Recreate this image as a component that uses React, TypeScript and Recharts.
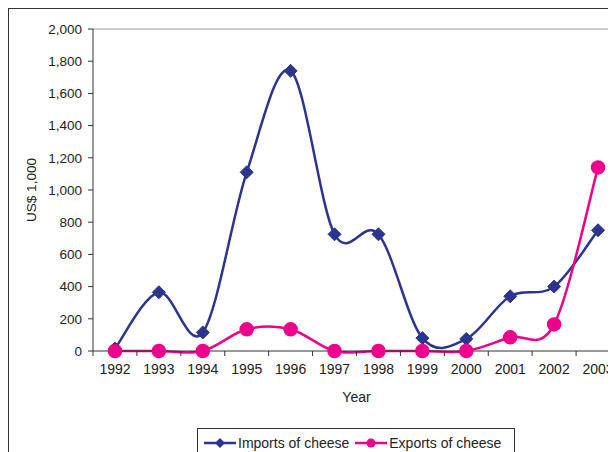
import { LineChart, Line, XAxis, YAxis, ReferenceLine } from "recharts";

const years = [1992, 1993, 1994, 1995, 1996, 1997, 1998, 1999, 2000, 2001, 2002, 2003];
const imports = [15, 365, 115, 1110, 1740, 725, 725, 80, 75, 340, 400, 750];
const exports = [0, 0, 0, 135, 135, 0, 0, 0, 0, 85, 165, 1140];
const yTicks = [0, 200, 400, 600, 800, 1000, 1200, 1400, 1600, 1800, 2000];
// category band edges (where Excel puts its tick marks)
const bandEdges = [1991.5, 1992.5, 1993.5, 1994.5, 1995.5, 1996.5, 1997.5, 1998.5, 1999.5, 2000.5, 2001.5, 2002.5, 2003.5];

const data = years.map((year, i) => ({ year, imports: imports[i], exports: exports[i] }));
const xTicks = [...bandEdges, ...years].sort((a, b) => a - b);

const NAVY = "#2b3590";
const PINK = "#ec008c";
const FONT = "'Liberation Sans', Arial, sans-serif";
const TICK_SIZE = 5;
const TICK_MARGIN = 8;

// Excel-like smoothed line (Catmull-Rom)
function smooth(context: any) {
  let pts: number[][] = [];
  return {
    areaStart() {},
    areaEnd() {},
    lineStart() {
      pts = [];
    },
    point(x: number, y: number) {
      pts.push([+x, +y]);
    },
    lineEnd() {
      if (!pts.length) return;
      context.moveTo(pts[0][0], pts[0][1]);
      for (let i = 0; i < pts.length - 1; i++) {
        const p0 = pts[Math.max(i - 1, 0)];
        const p1 = pts[i];
        const p2 = pts[i + 1];
        const p3 = pts[Math.min(i + 2, pts.length - 1)];
        context.bezierCurveTo(
          p1[0] + (p2[0] - p0[0]) / 6,
          p1[1] + (p2[1] - p0[1]) / 6,
          p2[0] - (p3[0] - p1[0]) / 6,
          p2[1] - (p3[1] - p1[1]) / 6,
          p2[0],
          p2[1]
        );
      }
    },
  };
}

const YearTick = (props: any) => {
  const { x, y, payload } = props;
  const v = payload.value;
  if (!Number.isInteger(v)) {
    const top = y - TICK_SIZE - TICK_MARGIN;
    return <line x1={x} x2={x} y1={top} y2={top + TICK_SIZE} stroke="#333" />;
  }
  return (
    <text x={x} y={y} dy="0.71em" textAnchor="middle" fill="#222" fontSize={14} fontFamily={FONT}>
      {v}
    </text>
  );
};

const Diamond = (props: any) => {
  const { cx, cy } = props;
  if (cx == null || cy == null) return null;
  const r = 6.5;
  return (
    <polygon
      points={`${cx},${cy - r} ${cx + r},${cy} ${cx},${cy + r} ${cx - r},${cy}`}
      fill={NAVY}
      stroke={NAVY}
    />
  );
};

const LegendBox = () => (
  <div
    style={{
      position: "absolute",
      left: 188,
      top: 419,
      width: 318,
      height: 30,
      border: "1px solid #333",
      background: "#fff",
      display: "flex",
      alignItems: "center",
      fontFamily: FONT,
      fontSize: 14,
      color: "#222",
      paddingLeft: 4,
      boxSizing: "border-box",
    }}
  >
    <svg width={36} height={14}>
      <line x1={2} y1={7} x2={34} y2={7} stroke={NAVY} strokeWidth={2.5} />
      <polygon points="18,2 23,7 18,12 13,7" fill={NAVY} />
    </svg>
    <span style={{ marginRight: 4 }}>Imports of cheese</span>
    <svg width={36} height={14}>
      <line x1={2} y1={7} x2={34} y2={7} stroke={PINK} strokeWidth={2.5} />
      <circle cx={18} cy={7} r={4.5} fill={PINK} />
    </svg>
    <span>Exports of cheese</span>
  </div>
);

export default function App() {
  return (
    <div
      style={{
        position: "relative",
        width: 660,
        height: 480,
        border: "1px solid #333",
        background: "#fff",
      }}
    >
      <LineChart
        width={640}
        height={470}
        data={data}
        margin={{ top: 20, right: 29, left: 0, bottom: 68 }}
      >
        <XAxis
          dataKey="year"
          type="number"
          domain={[1991.5, 2003.5]}
          ticks={xTicks}
          interval={0}
          tickLine={false}
          tickSize={TICK_SIZE}
          tickMargin={TICK_MARGIN}
          stroke="#333"
          height={60}
          tick={<YearTick />}
          label={{ value: "Year", position: "insideBottom", offset: 9, fill: "#222", fontSize: 14, fontFamily: FONT }}
        />
        <YAxis
          domain={[0, 2000]}
          ticks={yTicks}
          width={84}
          stroke="#333"
          tickSize={TICK_SIZE}
          tickMargin={6}
          tick={{ fill: "#222", fontSize: 13.5, fontFamily: FONT }}
          tickFormatter={(v: number) => v.toLocaleString("en-US")}
          label={{
            value: "US$ 1,000",
            angle: -90,
            position: "insideLeft",
            offset: 22,
            textAnchor: "middle",
            fill: "#222",
            fontSize: 13.5,
            fontFamily: FONT,
          }}
        />
        <ReferenceLine y={2000} stroke="#999" />
        <Line
          dataKey="imports"
          type={smooth as any}
          stroke={NAVY}
          strokeWidth={2.5}
          dot={<Diamond />}
          isAnimationActive={false}
        />
        <Line
          dataKey="exports"
          type={smooth as any}
          stroke={PINK}
          strokeWidth={2.5}
          dot={{ r: 6, fill: PINK, stroke: PINK }}
          isAnimationActive={false}
        />
      </LineChart>
      <LegendBox />
    </div>
  );
}
